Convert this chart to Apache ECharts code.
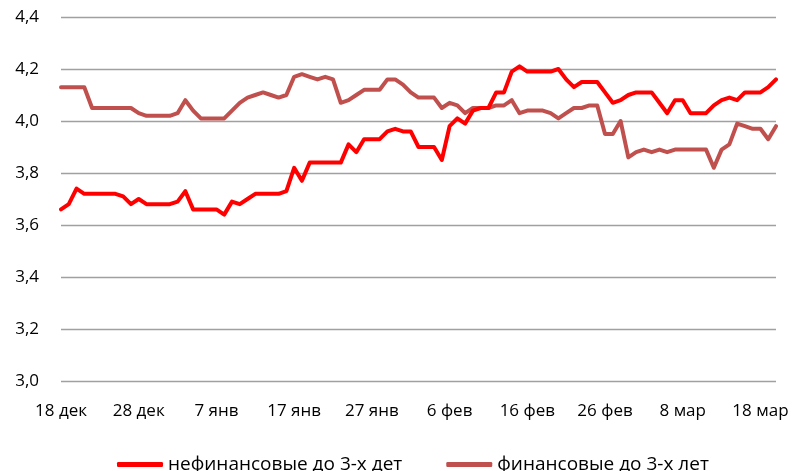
<!DOCTYPE html>
<html>
<head>
<meta charset="utf-8">
<script src="https://cdn.jsdelivr.net/npm/echarts@6/dist/echarts.min.js"></script>
<style>
  html, body { margin: 0; padding: 0; background: #fff; }
  #chart { width: 800px; height: 471px; }
</style>
</head>
<body>
<div id="chart"></div>
<script>
// daily points, 18 дек 2014 .. 20 мар 2015
const startDate = new Date(2014, 11, 18);
const dayCount = 93;
const monthNames = ['янв', 'фев', 'мар', 'апр', 'май', 'июн', 'июл', 'авг', 'сен', 'окт', 'ноя', 'дек'];
const categories = [];
for (let i = 0; i < dayCount; i++) {
  const d = new Date(startDate.getTime());
  d.setDate(d.getDate() + i);
  categories.push(d.getDate() + ' ' + monthNames[d.getMonth()]);
}

const seriesNames = ['нефинансовые до 3-х дет', 'финансовые до 3-х лет'];

const nonFinancial = [
  3.66, 3.68, 3.74, 3.72, 3.72, 3.72, 3.72, 3.72, 3.71, 3.68,
  3.70, 3.68, 3.68, 3.68, 3.68, 3.69, 3.73, 3.66, 3.66, 3.66,
  3.66, 3.64, 3.69, 3.68, 3.70, 3.72, 3.72, 3.72, 3.72, 3.73,
  3.82, 3.77, 3.84, 3.84, 3.84, 3.84, 3.84, 3.91, 3.88, 3.93,
  3.93, 3.93, 3.96, 3.97, 3.96, 3.96, 3.90, 3.90, 3.90, 3.85,
  3.98, 4.01, 3.99, 4.04, 4.05, 4.05, 4.11, 4.11, 4.19, 4.21,
  4.19, 4.19, 4.19, 4.19, 4.20, 4.16, 4.13, 4.15, 4.15, 4.15,
  4.11, 4.07, 4.08, 4.10, 4.11, 4.11, 4.11, 4.07, 4.03, 4.08,
  4.08, 4.03, 4.03, 4.03, 4.06, 4.08, 4.09, 4.08, 4.11, 4.11,
  4.11, 4.13, 4.16
];

const financial = [
  4.13, 4.13, 4.13, 4.13, 4.05, 4.05, 4.05, 4.05, 4.05, 4.05,
  4.03, 4.02, 4.02, 4.02, 4.02, 4.03, 4.08, 4.04, 4.01, 4.01,
  4.01, 4.01, 4.04, 4.07, 4.09, 4.10, 4.11, 4.10, 4.09, 4.10,
  4.17, 4.18, 4.17, 4.16, 4.17, 4.16, 4.07, 4.08, 4.10, 4.12,
  4.12, 4.12, 4.16, 4.16, 4.14, 4.11, 4.09, 4.09, 4.09, 4.05,
  4.07, 4.06, 4.03, 4.05, 4.05, 4.05, 4.06, 4.06, 4.08, 4.03,
  4.04, 4.04, 4.04, 4.03, 4.01, 4.03, 4.05, 4.05, 4.06, 4.06,
  3.95, 3.95, 4.00, 3.86, 3.88, 3.89, 3.88, 3.89, 3.88, 3.89,
  3.89, 3.89, 3.89, 3.89, 3.82, 3.89, 3.91, 3.99, 3.98, 3.97,
  3.97, 3.93, 3.98
];

const yTicks = { min: 3.0, max: 4.4, step: 0.2 };
const colors = ['#ff0000', '#c0504d'];
const fontFamily = '"Open Sans", Lato, sans-serif';

const chart = echarts.init(document.getElementById('chart'), null, { renderer: 'canvas' });
chart.setOption({
  animation: false,
  backgroundColor: '#ffffff',
  textStyle: { fontFamily },
  grid: { left: 61, right: 24, top: 17, bottom: 90, outerBoundsMode: 'none' },
  legend: {
    top: 450,
    left: 112,
    itemWidth: 46,
    itemHeight: 5,
    itemGap: 44,
    textStyle: { fontSize: 19, color: '#000', fontFamily },
    data: seriesNames.map((name) => ({ name, icon: 'roundRect' })),
  },
  xAxis: {
    type: 'category',
    data: categories,
    boundaryGap: false,
    axisLine: { show: false },
    axisTick: { show: false },
    axisLabel: { interval: 9, margin: 22, fontSize: 17, color: '#000', fontFamily },
    splitLine: { show: false },
  },
  yAxis: {
    type: 'value',
    min: yTicks.min,
    max: yTicks.max,
    interval: yTicks.step,
    axisLine: { show: false },
    axisTick: { show: false },
    axisLabel: {
      margin: 22,
      fontSize: 17,
      color: '#000',
      fontFamily,
      formatter: (v) => v.toFixed(1).replace('.', ','),
    },
    splitLine: { lineStyle: { color: '#a0a0a0', width: 1.3 } },
  },
  series: [
    {
      name: seriesNames[0],
      type: 'line',
      data: nonFinancial,
      symbol: 'none',
      color: colors[0],
      lineStyle: { width: 4, color: colors[0], cap: 'round', join: 'round' },
      z: 3,
    },
    {
      name: seriesNames[1],
      type: 'line',
      data: financial,
      symbol: 'none',
      color: colors[1],
      lineStyle: { width: 4, color: colors[1], cap: 'round', join: 'round' },
      z: 2,
    },
  ],
});
</script>
</body>
</html>
